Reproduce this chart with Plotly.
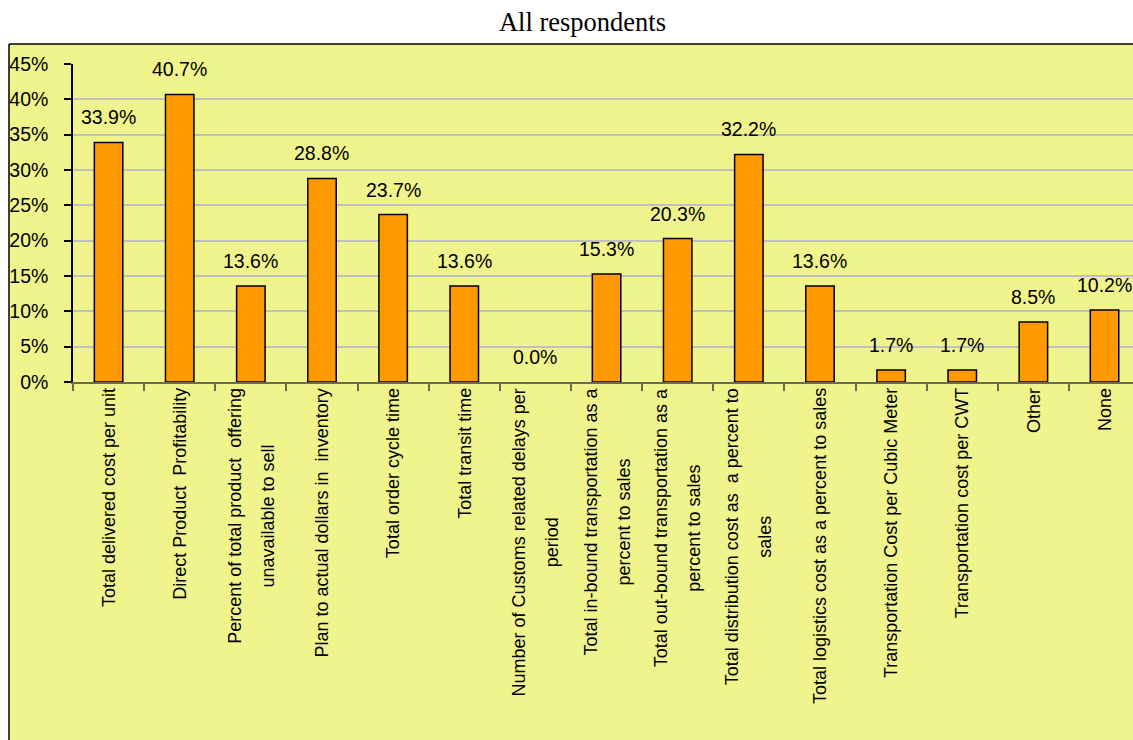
import plotly.graph_objects as go

# Survey: metrics used, share of all respondents (%)
categories = [
    "Total delivered cost per unit",
    "Direct Product  Profitability",
    "Percent of total product  offering\nunavailable to sell",
    "Plan to actual dollars in  inventory",
    "Total order cycle time",
    "Total transit time",
    "Number of Customs related delays per\nperiod",
    "Total in-bound transportation as a\npercent to sales",
    "Total out-bound transportation as a\npercent to sales",
    "Total distribution cost as  a percent to\nsales",
    "Total logistics cost as a percent to sales",
    "Transportation Cost per Cubic Meter",
    "Transportation cost per CWT",
    "Other",
    "None",
]
shares = [33.9, 40.7, 13.6, 28.8, 23.7, 13.6, 0.0, 15.3, 20.3, 32.2, 13.6, 1.7, 1.7, 8.5, 10.2]
y_ticks = [0, 5, 10, 15, 20, 25, 30, 35, 40, 45]

SANS = "Arial, 'Liberation Sans', sans-serif"
SERIF = "'Times New Roman', 'Liberation Serif', serif"
CHART_BG = "#F0F48D"
BAR_COLOR = "#FF9900"
AXIS_GREY = "#6B6B55"

W, H = 1133, 740
M_L, M_R, M_T, M_B = 73, 0, 64, 358
PLOT_W, PLOT_H = W - M_L - M_R, H - M_T - M_B

keys = [c.replace("\n", " ") for c in categories]
# empty bars get no outline
outline_widths = [1.5 if v > 0 else 0 for v in shares]

fig = go.Figure(
    go.Bar(
        x=keys,
        y=shares,
        width=0.4,
        marker=dict(color=BAR_COLOR, line=dict(color="#000000", width=outline_widths)),
        hoverinfo="skip",
    )
)

annotations = []
# value labels above each bar
for k, v in zip(keys, shares):
    annotations.append(dict(
        x=k, y=v, xref="x", yref="y",
        text=f"{v:.1f}%", showarrow=False,
        xanchor="center", yanchor="bottom", yshift=12,
        font=dict(family=SANS, size=19.5, color="#000000"),
    ))

# rotated category labels, wide line spacing via a larger base font
for k, c in zip(keys, categories):
    lines = c.split("\n")
    txt = "<br>".join(f"<span style='font-size:18px'>{ln}</span>" for ln in lines)
    annotations.append(dict(
        x=k, y=0, xref="x", yref="paper",
        text=txt, showarrow=False, textangle=-90, align="center",
        xanchor="center", yanchor="top", yshift=-4,
        font=dict(family=SANS, size=25.4, color="#000000"),
    ))

# chart-area panel: yellow page, white strip for the title and the left gutter,
# black border along the panel's left and top edges
px_x = lambda px: (px - M_L) / PLOT_W
px_y = lambda py: (H - M_B - py) / PLOT_H
left, right = px_x(0), px_x(W)
top, bottom = px_y(0), px_y(H)
frame_left, frame_top = px_x(9), px_y(44)
shapes = [
    dict(type="rect", xref="paper", yref="paper",
         x0=left, x1=right, y0=frame_top, y1=top,
         line=dict(width=0), fillcolor="#FFFFFF", layer="below"),
    dict(type="rect", xref="paper", yref="paper",
         x0=left, x1=frame_left, y0=bottom, y1=top,
         line=dict(width=0), fillcolor="#FFFFFF", layer="below"),
    dict(type="line", xref="paper", yref="paper",
         x0=frame_left, x1=frame_left, y0=bottom, y1=frame_top,
         line=dict(color="#000000", width=1.5), layer="below"),
    dict(type="line", xref="paper", yref="paper",
         x0=frame_left, x1=right, y0=frame_top, y1=frame_top,
         line=dict(color="#000000", width=1.5), layer="below"),
]

fig.update_layout(
    width=W,
    height=H,
    margin=dict(l=M_L, r=M_R, t=M_T, b=M_B, autoexpand=False),
    paper_bgcolor=CHART_BG,
    plot_bgcolor=CHART_BG,
    showlegend=False,
    title=dict(
        text="All respondents",
        x=0.4806, xref="paper", xanchor="center",
        y=1 - 22 / H, yref="container", yanchor="middle",
        font=dict(family=SERIF, size=26.5, color="#000000"),
    ),
    annotations=annotations,
    shapes=shapes,
    xaxis=dict(
        type="category",
        range=[-0.5, 14.4],
        showticklabels=False,
        ticks="outside", tickson="boundaries", ticklen=7,
        tickcolor=AXIS_GREY, tickwidth=1.5,
        showline=True, linecolor=AXIS_GREY, linewidth=2,
        showgrid=False, zeroline=False,
    ),
    yaxis=dict(
        range=[0, 45],
        tickvals=y_ticks,
        ticktext=[f"{t}%" for t in y_ticks],
        ticks="outside", ticklen=7, tickcolor="#000000", tickwidth=1.5,
        ticklabelstandoff=12,
        tickfont=dict(family=SANS, size=19.5, color="#000000"),
        showline=True, linecolor="#000000", linewidth=1.5,
        showgrid=True, gridcolor="#C0C0C0", gridwidth=1.5,
        zeroline=False,
    ),
)

fig.write_html("out.html")
